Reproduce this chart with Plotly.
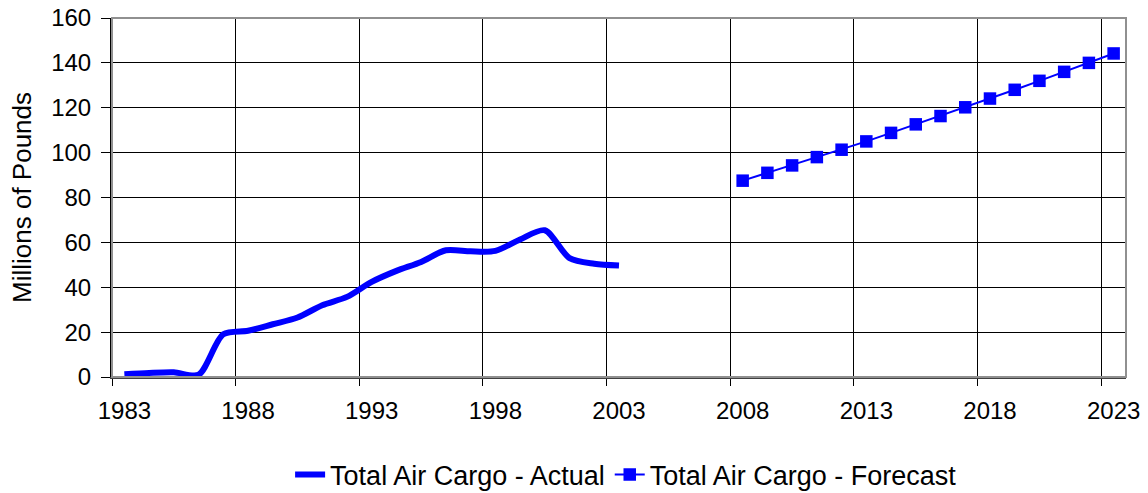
import plotly.graph_objects as go

actual_years = list(range(1983, 2004))
actual_values = [1.2, 1.8, 2.1, 1.0, 19.0, 20.6, 23.5, 26.5, 32.0, 35.7, 42.4, 47.3, 51.3,
                 56.5, 56.0, 56.2, 61.3, 65.4, 53.0, 50.5, 49.7]

forecast_years = list(range(2008, 2024))
forecast_values = [87.5, 91.0, 94.3, 98.0, 101.3, 105.0, 108.8, 112.6, 116.3, 120.2,
                   124.1, 128.0, 132.0, 136.0, 140.0, 144.2]

tick_years = list(range(1983, 2024, 5))
tick_labels = [str(y) for y in tick_years]
y_ticks = list(range(0, 161, 20))

BLUE = "#0000FF"
FONT = "Liberation Sans, Arial, sans-serif"

fig = go.Figure()
fig.add_trace(go.Scatter(
    x=actual_years, y=actual_values, mode="lines",
    line=dict(color=BLUE, width=6, shape="spline", smoothing=0.8),
    name="Total Air Cargo - Actual"))
fig.add_trace(go.Scatter(
    x=forecast_years, y=forecast_values, mode="lines+markers",
    line=dict(color=BLUE, width=2),
    marker=dict(symbol="square", size=12.5, color=BLUE),
    name="Total Air Cargo - Forecast"))

fig.update_layout(
    width=1148, height=493,
    margin=dict(l=112, r=22, t=18, b=116, autoexpand=False),
    paper_bgcolor="white", plot_bgcolor="white",
    font=dict(family=FONT, size=24, color="black"),
    showlegend=True,
    legend=dict(orientation="h", x=0.507, xanchor="center", y=-0.273, yanchor="middle",
                font=dict(size=27), tracegroupgap=0, itemwidth=30),
    xaxis=dict(
        range=[1982.5, 2023.5],
        tickmode="array", tickvals=tick_years, ticktext=tick_labels,
        showgrid=False, ticks="", showline=True, linecolor="#404040", linewidth=2,
        zeroline=False, automargin=False,
        minor=dict(tick0=1982.5, dtick=5, showgrid=True, gridcolor="black", gridwidth=1,
                   ticks="outside", ticklen=7, tickcolor="black"),
        tickfont=dict(size=24),
        ticklabelstandoff=11,
        ticklabeloverflow="allow",
    ),
    yaxis=dict(
        range=[0, 160],
        tickmode="array", tickvals=y_ticks, ticktext=[str(v) for v in y_ticks],
        showgrid=True, gridcolor="black", gridwidth=1,
        ticks="outside", ticklen=9, tickcolor="black",
        showline=True, linecolor="black", linewidth=2,
        zeroline=False, automargin=False,
        title=dict(text="Millions of Pounds", font=dict(size=26), standoff=12),
        tickfont=dict(size=24),
        ticklabelstandoff=5,
        ticklabeloverflow="allow",
    ),
)

fig.add_shape(type="rect", xref="paper", yref="paper", x0=0, y0=0, x1=1, y1=1,
              line=dict(color="#909090", width=2), layer="above")

fig.write_html("out.html", config={"displayModeBar": False},
               post_script="document.body.style.margin='0';")
